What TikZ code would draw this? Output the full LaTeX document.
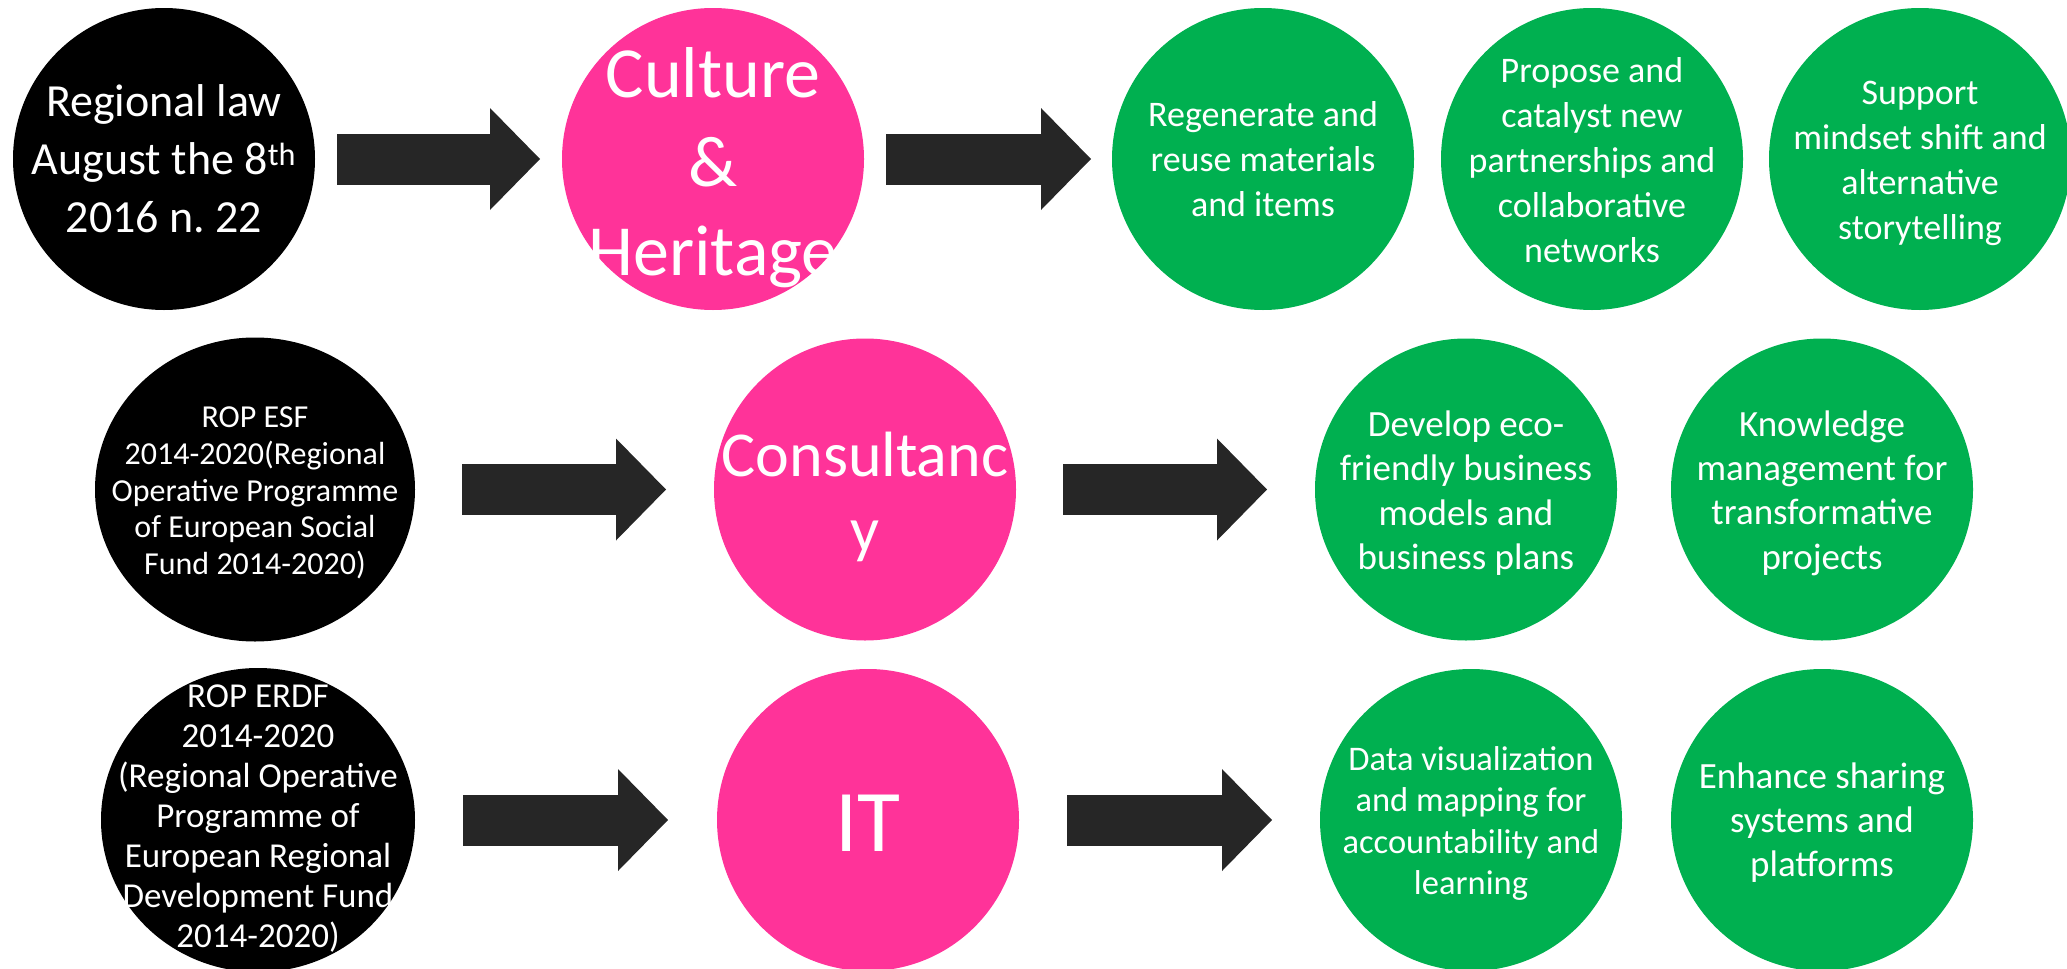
\documentclass[tikz,border=0pt]{standalone}
\usepackage{fontspec}
\setmainfont{Carlito}
\usetikzlibrary{shapes.geometric,arrows.meta,calc}
\definecolor{pinkc}{HTML}{FF3399}
\definecolor{greenc}{HTML}{00B050}
\definecolor{arrowc}{HTML}{262626}
\frenchspacing
\begin{document}
\begin{tikzpicture}[x=1pt,y=-1pt,
  disc/.style={circle, draw=none, inner sep=0pt, outer sep=0pt, minimum size=302pt},
  oval/.style={ellipse, draw=none, inner sep=0pt, outer sep=0pt, minimum height=304pt},
  blackdisc/.style={fill=black},
  pinkdisc/.style={fill=pinkc},
  greendisc/.style={fill=greenc},
  txt/.style={text=white, align=center, inner sep=0pt, outer sep=0pt},
  bigarrow/.style={draw=arrowc, line width=51pt, -{Triangle[length=50pt,width=102pt,line width=0pt]}},
]
\useasboundingbox (0,0) rectangle (2067,969);
% row 1
\node[disc, blackdisc] (b1) at (164,159) {};
\node[disc, pinkdisc] (p1) at (713,159) {};
\node[disc, greendisc] (g1) at (1263,159) {};
\node[disc, greendisc] (g2) at (1592,159) {};
\node[disc, greendisc] (g3) at (1920,159) {};
% row 2
\node[oval, blackdisc, minimum width=320pt] (b2) at (255,489.5) {};
\node[disc, pinkdisc] (p2) at (865,489.5) {};
\node[disc, greendisc] (g4) at (1466,489.5) {};
\node[disc, greendisc] (g5) at (1822,489.5) {};
% row 3
\node[oval, blackdisc, minimum width=314pt] (b3) at (258,820) {};
\node[disc, pinkdisc] (p3) at (868,820) {};
\node[disc, greendisc] (g6) at (1471,820) {};
\node[disc, greendisc] (g7) at (1822,820) {};
% arrows
\draw[bigarrow, shorten <=22pt, shorten >=22pt] (b1) -- (p1);
\draw[bigarrow, shorten <=22pt, shorten >=21pt] (p1) -- (g1);
\draw[bigarrow, shorten <=47pt, shorten >=48pt] (b2) -- (p2);
\draw[bigarrow, shorten <=47pt, shorten >=48pt] (p2) -- (g4);
\draw[bigarrow, shorten <=48pt, shorten >=49pt] (b3) -- (p3);
\draw[bigarrow, shorten <=48pt, shorten >=48pt] (p3) -- (g6);
% texts
\node[txt, font=\fontsize{46}{58}\selectfont] (b1t) at (164,158.5) {Regional law\\August the 8\textsuperscript{th}\\2016 n. 22};
\node[txt, font=\fontsize{72}{89}\selectfont] (p1t) at (713,168) {Culture\\\&\\Heritage};
\node[txt, font=\fontsize{36}{45}\selectfont] (g1t) at (1263,159.5) {Regenerate and\\reuse materials\\and items};
\node[txt, font=\fontsize{36}{45}\selectfont] (g2t) at (1592,160) {Propose and\\catalyst new\\partnerships and\\collaborative\\networks};
\node[txt, font=\fontsize{36}{45}\selectfont] (g3t) at (1920,163.5) {Support\\mindset shift and\\alternative\\storytelling};
\node[txt, font=\fontsize{32}{36.6}\selectfont] (b2t) at (255,493) {ROP ESF\\2014-2020(Regional\\Operative Programme\\of European Social\\Fund 2014-2020)};
\node[txt, font=\fontsize{64}{75}\selectfont] (p2t) at (865,497) {Consultanc\\y};
\node[txt, font=\fontsize{37}{44.3}\selectfont] (g4t) at (1466,493) {Develop eco-\\friendly business\\models and\\business plans};
\node[txt, font=\fontsize{37}{44.3}\selectfont] (g5t) at (1822,493) {Knowledge\\management for\\transformative\\projects};
\node[txt, font=\fontsize{35}{40}\selectfont] (b3t) at (258,819) {ROP ERDF\\2014-2020\\(Regional Operative\\Programme of\\European Regional\\Development Fund\\2014-2020)};
\node[txt, font=\fontsize{88}{100}\selectfont] (p3t) at (868,823) {IT};
\node[txt, font=\fontsize{34.5}{41.5}\selectfont] (g6t) at (1471,823.5) {Data visualization\\and mapping for\\accountability and\\learning};
\node[txt, font=\fontsize{37}{44}\selectfont] (g7t) at (1822,823) {Enhance sharing\\systems and\\platforms};
\end{tikzpicture}
\end{document}
